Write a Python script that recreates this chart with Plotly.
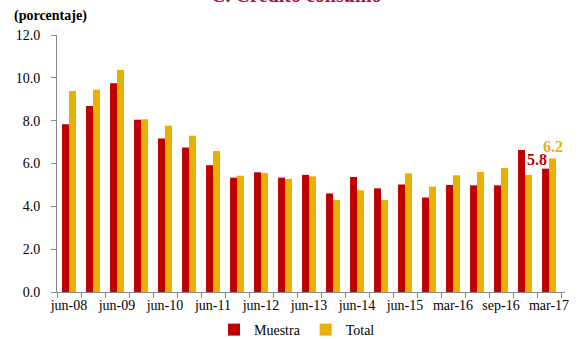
import plotly.graph_objects as go

categories = ["jun-08", "dic-08", "jun-09", "dic-09", "jun-10", "dic-10", "jun-11", "dic-11",
              "jun-12", "dic-12", "jun-13", "dic-13", "jun-14", "dic-14", "jun-15", "dic-15",
              "mar-16", "jun-16", "sep-16", "dic-16", "mar-17"]
tick_labels = ["jun-08", "", "jun-09", "", "jun-10", "", "jun-11", "", "jun-12", "", "jun-13", "",
               "jun-14", "", "jun-15", "", "mar-16", "", "sep-16", "", "mar-17"]
muestra = [7.83, 8.68, 9.75, 8.04, 7.17, 6.75, 5.92, 5.34, 5.59, 5.34, 5.47, 4.60, 5.37, 4.84,
           5.02, 4.41, 5.00, 4.98, 4.98, 6.63, 5.76]
total = [9.38, 9.44, 10.36, 8.07, 7.76, 7.30, 6.58, 5.43, 5.56, 5.28, 5.40, 4.30, 4.75, 4.29,
         5.54, 4.92, 5.45, 5.61, 5.79, 5.47, 6.23]

RED = "#C00000"
YEL = "#E8B000"
FONT = "Liberation Serif, Times New Roman, DejaVu Serif, serif"

PW, PH, L, T = 508, 257, 57, 35  # plot size and margins in px

fig = go.Figure()
fig.add_trace(go.Bar(x=categories, y=muestra, name="Muestra", marker_color=RED, marker_line_width=0))
fig.add_trace(go.Bar(x=categories, y=total, name="Total", marker_color=YEL, marker_line_width=0))

fig.add_annotation(x=categories[-1], y=muestra[-1], text="<b>%.1f</b>" % muestra[-1], showarrow=False,
                   xref="x", yref="y", xanchor="right", yanchor="bottom", xshift=0, yshift=-1,
                   font=dict(family=FONT, size=16, color=RED))
fig.add_annotation(x=categories[-1], y=total[-1], text="<b>%.1f</b>" % total[-1], showarrow=False,
                   xref="x", yref="y", xanchor="center", yanchor="bottom", xshift=4, yshift=2,
                   font=dict(family=FONT, size=16, color=YEL))
fig.add_annotation(x=-(L - 12) / PW, y=1 + (T - 16) / PH, xref="paper", yref="paper",
                   text="<b>(porcentaje)</b>", showarrow=False, xanchor="left", yanchor="middle",
                   font=dict(family=FONT, size=14, color="#000"))
fig.add_annotation(x=(296 - L) / PW, y=1 + (T - 8) / PH, xref="paper", yref="paper",
                   text="<b>C. Crédito consumo</b>", showarrow=False, xanchor="center", yanchor="bottom",
                   font=dict(family=FONT, size=20, color="#A8123E"))

fig.update_layout(
    width=582, height=339,
    margin=dict(l=L, r=17, t=T, b=47, autoexpand=False),
    paper_bgcolor="white", plot_bgcolor="white",
    barmode="group", bargap=0.42, bargroupgap=0,
    font=dict(family=FONT, size=14, color="#000"),
    legend=dict(orientation="h", x=(297 - L) / PW, xanchor="center", y=-(330 - 292) / PH,
                yanchor="middle", font=dict(family=FONT, size=14), itemwidth=30,
                traceorder="normal"),
    showlegend=True,
)
fig.update_xaxes(type="category", tickvals=categories, ticktext=tick_labels, tickson="boundaries",
                 ticks="outside", ticklen=5, tickcolor="#888", showline=True, linecolor="#888",
                 linewidth=1, showgrid=False, tickangle=0, automargin=False,
                 tickfont=dict(family=FONT, size=14))
fig.update_yaxes(range=[0, 12], dtick=2, tickformat=".1f", ticks="outside", ticklen=5, tickcolor="#888",
                 showline=True, linecolor="#888", linewidth=1, showgrid=False, zeroline=False,
                 ticklabelstandoff=8, automargin=False, tickfont=dict(family=FONT, size=14))

fig.write_html("out.html")
